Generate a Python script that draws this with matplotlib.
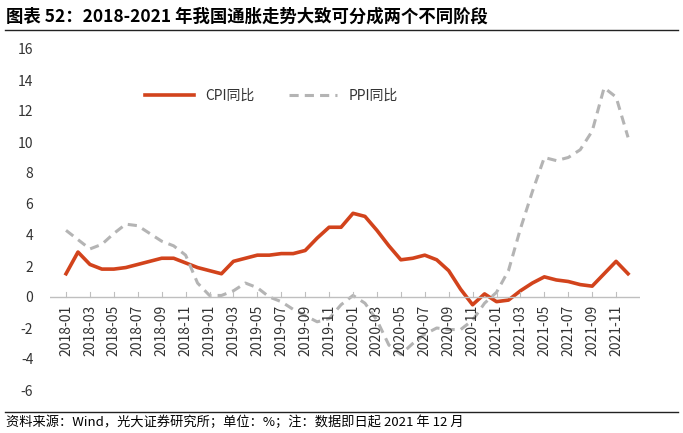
import matplotlib
matplotlib.use("Agg")
import matplotlib.pyplot as plt
from matplotlib.lines import Line2D

plt.rcParams['font.family'] = ['Noto Sans CJK SC', 'DejaVu Sans']

months = [f"{y}-{m:02d}" for y in range(2018, 2022) for m in range(1, 13)]
cpi = [1.5,2.9,2.1,1.8,1.8,1.9,2.1,2.3,2.5,2.5,2.2,1.9,
       1.7,1.5,2.3,2.5,2.7,2.7,2.8,2.8,3.0,3.8,4.5,4.5,
       5.4,5.2,4.3,3.3,2.4,2.5,2.7,2.4,1.7,0.5,-0.5,0.2,
       -0.3,-0.2,0.4,0.9,1.3,1.1,1.0,0.8,0.7,1.5,2.3,1.5]
ppi = [4.3,3.7,3.1,3.4,4.1,4.7,4.6,4.1,3.6,3.3,2.7,0.9,
       0.1,0.1,0.4,0.9,0.6,0.0,-0.3,-0.8,-1.2,-1.6,-1.4,-0.5,
       0.1,-0.4,-1.5,-3.1,-3.7,-3.0,-2.4,-2.0,-2.1,-2.1,-1.5,-0.4,
       0.3,1.7,4.4,6.8,9.0,8.8,9.0,9.5,10.7,13.5,12.9,10.3]
yticks = list(range(-6, 17, 2))

W, H = 683, 433
fig = plt.figure(figsize=(W/100, H/100), dpi=100)
ax = fig.add_axes([50/W, 1-390/H, 590/W, (390-49)/H])
x = list(range(len(months)))
ax.plot(x, cpi, color='#D2431C', lw=2.6, label='CPI同比')
ax.plot(x, ppi, color='#B4B4B4', lw=2.2, ls=(0, (3, 2)), label='PPI同比')
ax.set_ylim(-6, 16)
ax.set_xlim(-1.34, 48)
ax.set_yticks(yticks)
ax.set_yticklabels([str(v) for v in yticks], fontsize=10, color='#333333')
for s in ax.spines.values():
    s.set_visible(False)
ax.axhline(0, color='#BFBFBF', lw=1)
ax.tick_params(axis='y', length=0, pad=12)
ax.set_xticks(x[::2])
ax.set_xticklabels([])
ax.tick_params(axis='x', length=0)
for i in x[::2]:
    ax.plot([i, i], [0, 0.35], color='#BFBFBF', lw=0.8)
    ax.text(i, -0.5, months[i], rotation=90, ha='center', va='top', fontsize=10, color='#333333')
leg = ax.legend(loc='upper left', bbox_to_anchor=(0.14, 0.92), ncol=2, frameon=False,
                fontsize=10, handlelength=3.5, columnspacing=2.5)
for t in leg.get_texts():
    t.set_color('#333333')

fig.text(6/W, 1-17/H, '图表 52：2018-2021 年我国通胀走势大致可分成两个不同阶段',
         fontsize=12.5, fontweight='bold', va='center', ha='left')
fig.add_artist(Line2D([5/W, 678/W], [1-30/H, 1-30/H], color='#222222', lw=1))
fig.add_artist(Line2D([5/W, 678/W], [1-412/H, 1-412/H], color='#222222', lw=1))
fig.text(6/W, 1-422/H, '资料来源：Wind，光大证券研究所；单位：%；注：数据即日起 2021 年 12 月',
         fontsize=9.5, va='center', ha='left')
fig.savefig('out.png', dpi=100)
